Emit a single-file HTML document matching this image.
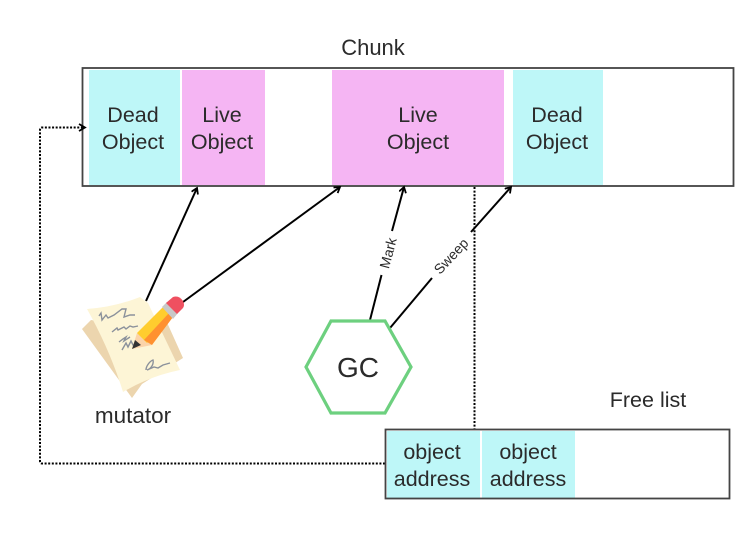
<!DOCTYPE html>
<html><head><meta charset="utf-8"><style>
html,body{margin:0;padding:0;background:#fff}
svg{display:block}
text{font-family:"Liberation Sans",sans-serif;fill:#2b2b2b;text-anchor:middle}
</style></head><body>
<svg width="755" height="533" viewBox="0 0 755 533" xmlns="http://www.w3.org/2000/svg">
<defs>
<marker id="a" markerWidth="10" markerHeight="10" refX="7.5" refY="4" orient="auto" markerUnits="userSpaceOnUse"><path d="M2 0.5L7.5 4L2 7.5" fill="none" stroke="#000" stroke-width="1.8"/></marker>
</defs>
<rect x="89" y="70" width="91" height="115" fill="#bef7f8"/>
<rect x="182" y="70" width="83" height="115" fill="#f5b5f3"/>
<rect x="332" y="70" width="172" height="115" fill="#f5b5f3"/>
<rect x="513" y="70" width="90" height="115" fill="#bef7f8"/>
<rect x="82.5" y="68" width="651" height="118" fill="none" stroke="#444" stroke-width="1.8"/>
<text x="373" y="55" font-size="22">Chunk</text>
<g font-size="21.5">
<text x="133" y="122">Dead</text><text x="133" y="149">Object</text>
<text x="222" y="122">Live</text><text x="222" y="149">Object</text>
<text x="418" y="122">Live</text><text x="418" y="149">Object</text>
<text x="557" y="122">Dead</text><text x="557" y="149">Object</text>
</g>
<g fill="none" stroke="#000" stroke-width="2">
<path d="M146 301L197 188" marker-end="url(#a)"/>
<path d="M183 302L340 187" marker-end="url(#a)"/>
<path d="M370 320L381.500 275"/>
<path d="M392 231L404 187" marker-end="url(#a)"/>
<path d="M390 328L432 278"/>
<path d="M471 232L511 187" marker-end="url(#a)"/>
</g>
<g fill="none" stroke="#000" stroke-width="2" stroke-dasharray="2 1.6">
<path d="M474.500 187V429"/>
<path d="M385 463.500H42Q40 463.500 40 461V130Q40 127.500 42 127.500H84"/>
</g>
<path d="M79 124L85 127.500L79 131" fill="none" stroke="#000" stroke-width="1.800"/>
<text transform="translate(388 253) rotate(-75)" font-size="14" y="5">Mark</text>
<text transform="translate(451 256) rotate(-47)" font-size="14" y="5">Sweep</text>
<polygon points="331,321 385,321 411,367 385,413 331,413 306,367" fill="#fff" stroke="#6dd07f" stroke-width="3.200"/>
<text x="358" y="377" font-size="28">GC</text>
<!-- mutator icon -->
<path d="M91 320L82 329L132 398L142 384L183 358L165 318L150 330Z" fill="#ecd5ae"/>
<path d="M87 309Q115 307 140 297L148 303L180 370Q150 376 123 392Q110 350 87 309Z" fill="#fdf5d6"/>
<g fill="none" stroke="#8b919b" stroke-width="1.400">
<path d="M99 316l2 -3l1 7l4 -5l2 3l6 -3l8 -6l4 0l-2 8l6 -2l5 0"/>
<path d="M112 332l5 -4l1 2l6 -3l2 2l4 -3l3 1l5 -1"/>
<path d="M119 342l4 -3l3 -2l-2 4l6 -4"/>
<path d="M122 350l4 -7l2 4l3 -6l2 4l3 -1"/>
<path d="M146 370c0 -4 4 -9 7 -10c1 4 -2 9 -6 10l7 -3l4 1l5 -3l7 -2"/>
</g>
<path d="M132 349L137 333L152 345Z" fill="#fbd3a9"/>
<path d="M132 349L135 340L141 345Z" fill="#333"/>
<path d="M137 333L163 307L173 317L147 343Z" fill="#ffcd2e"/>
<path d="M144 340L169 313L173 317L152 345Z" fill="#ff9130"/>
<path d="M162 307L167 302L178 313L173 319Z" fill="#c8c8c8"/>
<path d="M166 303L173 297Q179 295 183 301Q185 305 183 308L177 314Z" fill="#ef5060"/>
<text x="133" y="423" font-size="22.500">mutator</text>
<rect x="387" y="431" width="93" height="67" fill="#bef7f8"/>
<rect x="482" y="431" width="93" height="67" fill="#bef7f8"/>
<rect x="385.500" y="429.500" width="344" height="69" fill="none" stroke="#444" stroke-width="1.800"/>
<g font-size="21.500">
<text x="432" y="459">object</text><text x="432" y="486">address</text>
<text x="528" y="459">object</text><text x="528" y="486">address</text>
</g>
<text x="648" y="407" font-size="21.500">Free list</text>
</svg>
</body></html>
